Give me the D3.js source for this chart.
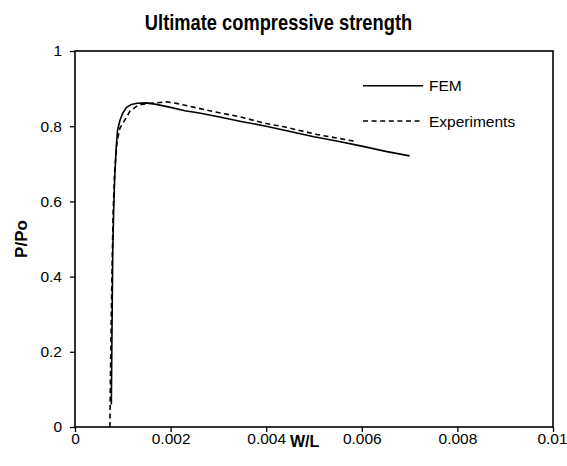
<!DOCTYPE html>
<html>
<head>
<meta charset="utf-8">
<script src="https://cdn.jsdelivr.net/npm/d3@7"></script>
<style>
  body { margin: 0; background: #fff; }
  text { font-family: Arial, "Liberation Sans", sans-serif; fill: #000; }
</style>
</head>
<body>
<svg id="svg"></svg>
<script>
// W/L and P/Po
const femWL = [0.00076, 0.00077, 0.00078, 0.00079, 0.00081, 0.00083, 0.00086, 0.00089, 0.00094, 0.00100,
    0.00108, 0.00118, 0.00130, 0.00150, 0.00170, 0.00200, 0.00230, 0.00260, 0.00300, 0.00350,
    0.00400, 0.00450, 0.00500, 0.00550, 0.00600, 0.00650, 0.00700];
const femPPo = [0.06, 0.20, 0.34, 0.47, 0.58, 0.66, 0.74, 0.79, 0.815, 0.835,
    0.850, 0.858, 0.861, 0.862, 0.858, 0.850, 0.841, 0.835, 0.825, 0.812,
    0.800, 0.786, 0.772, 0.760, 0.747, 0.733, 0.721];

const expWL = [0.00073, 0.00074, 0.00076, 0.00078, 0.00080, 0.00083, 0.00088, 0.00094, 0.00105, 0.00115,
    0.00132, 0.00150, 0.00171, 0.00192, 0.00215, 0.00250, 0.00289, 0.00345, 0.00400, 0.00435,
    0.00506, 0.00550, 0.00589];
const expPPo = [0.0, 0.12, 0.30, 0.45, 0.58, 0.68, 0.76, 0.795, 0.818, 0.840,
    0.856, 0.860, 0.862, 0.865, 0.860, 0.850, 0.839, 0.825, 0.807, 0.799,
    0.778, 0.768, 0.759];

const xTicks = [0, 0.002, 0.004, 0.006, 0.008, 0.01];
const yTicks = [0, 0.2, 0.4, 0.6, 0.8, 1];
const seriesNames = ["FEM", "Experiments"];

const WIDTH = 567, HEIGHT = 466;
const LINE_COLOR = "#000";

const svg = d3.select("#svg")
    .attr("width", WIDTH)
    .attr("height", HEIGHT);

const x = d3.scaleLinear().domain([0, 0.01]).range([75, 553]);
const y = d3.scaleLinear().domain([0, 1]).range([427, 51]);

//坐标轴
const xAxis = svg.append("g")
    .attr("transform", `translate(0,${y(0)})`)
    .call(d3.axisBottom(x).tickValues(xTicks).tickSize(5).tickPadding(1)
        .tickFormat(d => d === 0.01 ? "0.01" : d3.format(".3f")(d).replace(/^0\.000$/, "0")));
xAxis.select(".domain").remove();
xAxis.selectAll("line").attr("stroke", LINE_COLOR).attr("stroke-width", 1.3);
xAxis.selectAll("text").style("font-size", "15.5px").attr("font-family", null);
// 最右边的 0.01 不要被裁掉
xAxis.selectAll("text").filter(d => d === 0.01).attr("dx", "-1px");

const yAxis = svg.append("g")
    .attr("transform", `translate(${x(0)},0)`)
    .call(d3.axisLeft(y).tickValues(yTicks).tickSize(5).tickPadding(8)
        .tickFormat(d => d === 0 || d === 1 ? String(d) : d3.format(".1f")(d)));
yAxis.select(".domain").remove();
yAxis.selectAll("line").attr("stroke", LINE_COLOR).attr("stroke-width", 1.3);
yAxis.selectAll("text").style("font-size", "15.5px").attr("font-family", null);

//边框
svg.append("rect")
    .attr("x", x(0))
    .attr("y", y(1))
    .attr("width", x(0.01) - x(0))
    .attr("height", y(0) - y(1))
    .attr("fill", "none")
    .attr("stroke", LINE_COLOR)
    .attr("stroke-width", 1.6);

//曲线
const line = d3.line()
    .x(d => x(d[0]))
    .y(d => y(d[1]));

svg.append("path")
    .datum(femWL.map((v, i) => [v, femPPo[i]]))
    .attr("d", line)
    .attr("fill", "none")
    .attr("stroke", LINE_COLOR)
    .attr("stroke-width", 1.6);

svg.append("path")
    .datum(expWL.map((v, i) => [v, expPPo[i]]))
    .attr("d", line)
    .attr("fill", "none")
    .attr("stroke", LINE_COLOR)
    .attr("stroke-width", 1.6)
    .attr("stroke-dasharray", "5,3.5");

//图例
const legend = svg.append("g");
seriesNames.forEach((name, i) => {
    const ly = 85.7 + i * 35.3;
    legend.append("line")
        .attr("x1", 363)
        .attr("x2", 423)
        .attr("y1", ly)
        .attr("y2", ly)
        .attr("stroke", LINE_COLOR)
        .attr("stroke-width", 1.6)
        .attr("stroke-dasharray", i === 1 ? "5,3.6" : null);
    legend.append("text")
        .attr("x", 429)
        .attr("y", ly + 5.7)
        .style("font-size", "15.5px")
        .text(name);
});

//标题
svg.append("text")
    .attr("transform", "translate(278.5,30) scale(1,1.18)")
    .attr("text-anchor", "middle")
    .style("font-size", "18.3px")
    .style("font-weight", "bold")
    .text("Ultimate compressive strength");

svg.append("text")
    .attr("x", 290)
    .attr("y", 447)
    .style("font-size", "16px")
    .style("font-weight", "bold")
    .text("W/L");

svg.append("text")
    .attr("transform", "translate(27,239) rotate(-90)")
    .attr("text-anchor", "middle")
    .style("font-size", "17px")
    .style("font-weight", "bold")
    .text("P/Po");
</script>
</body>
</html>
